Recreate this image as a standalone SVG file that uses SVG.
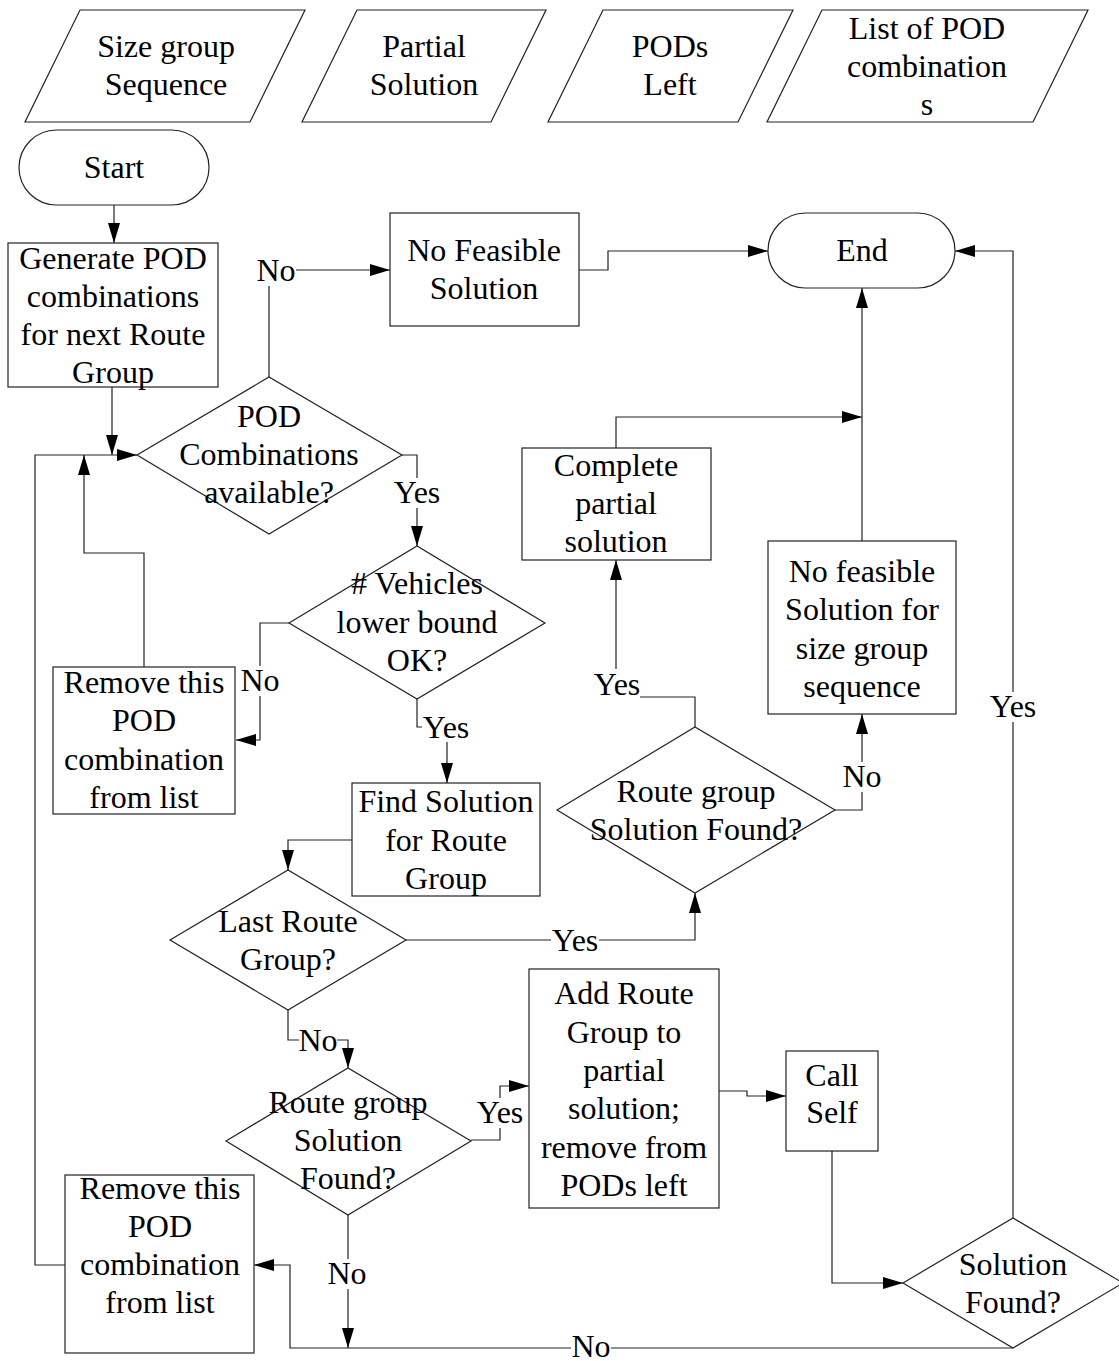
<svg xmlns="http://www.w3.org/2000/svg" width="1119" height="1361" viewBox="0 0 1119 1361">
  <defs>
    <marker id="arrow" viewBox="0 0 20 12" refX="20" refY="6" markerWidth="20" markerHeight="12" markerUnits="userSpaceOnUse" orient="auto">
      <path d="M0,0 L20,6 L0,12 z" fill="#000"/>
    </marker>
    <style>
      .shape { fill: #fff; stroke: #222; stroke-width: 1.2; }
      .link { fill: none; stroke: #222; stroke-width: 1.2; }
      .arr { marker-end: url(#arrow); }
      text { font-family: "Liberation Serif", "Times New Roman", serif; font-size: 32px; fill: #000; text-anchor: middle; }
      .lblbg { fill: #fff; stroke: none; }
    </style>
  </defs>
  <rect x="0" y="0" width="1119" height="1361" fill="#fff"/>

  <!-- data inputs -->
  <g id="input-size-group">
    <polygon class="shape" points="80,10 305,10 250,122 25,122"/>
    <text x="166"><tspan y="57">Size group</tspan><tspan x="166" y="95">Sequence</tspan></text>
  </g>
  <g id="input-partial-solution">
    <polygon class="shape" points="357,10 546,10 491,122 302,122"/>
    <text x="424"><tspan y="57">Partial</tspan><tspan x="424" y="95">Solution</tspan></text>
  </g>
  <g id="input-pods-left">
    <polygon class="shape" points="603,10 793,10 738,122 548,122"/>
    <text x="670"><tspan y="57">PODs</tspan><tspan x="670" y="95">Left</tspan></text>
  </g>
  <g id="input-pod-list">
    <polygon class="shape" points="822,10 1088,10 1033,122 767,122"/>
    <text x="927"><tspan y="39">List of POD</tspan><tspan x="927" y="77">combination</tspan><tspan x="927" y="115">s</tspan></text>
  </g>

  <!-- connectors -->
  <g id="connectors">
    <path class="link arr" d="M114,205 L114,243"/>
    <path class="link arr" d="M112,387 L112,455"/>
    <path class="link arr" d="M65,1265 L35,1265 L35,455 L137,455"/>
    <path class="link arr" d="M144,667 L144,553 L84,553 L84,455"/>
    <path class="link arr" d="M269,377 L269,270 L390,270"/>
    <path class="link arr" d="M579,270 L608,270 L608,251 L768,251"/>
    <path class="link arr" d="M402,455 L417,455 L417,546"/>
    <path class="link arr" d="M289,623 L260,623 L260,740 L236,740"/>
    <path class="link arr" d="M417,699 L417,727 L447,727 L447,783"/>
    <path class="link arr" d="M352,840 L288,840 L288,870"/>
    <path class="link arr" d="M406,940 L695,940 L695,893"/>
    <path class="link arr" d="M695,727 L695,697 L616,697 L616,560"/>
    <path class="link arr" d="M616,448 L616,417 L862,417"/>
    <path class="link arr" d="M862,541 L862,288"/>
    <path class="link arr" d="M835,810 L862,810 L862,714"/>
    <path class="link arr" d="M288,1010 L288,1040 L348,1040 L348,1068"/>
    <path class="link arr" d="M471,1140 L500,1140 L500,1086 L529,1086"/>
    <path class="link arr" d="M719,1091 L747,1091 L747,1096 L786,1096"/>
    <path class="link arr" d="M832,1151 L832,1283 L903,1283"/>
    <path class="link arr" d="M1013,1218 L1013,251 L955,251"/>
    <path class="link arr" d="M1013,1348 L290,1348 L290,1265 L254,1265"/>
    <path class="link arr" d="M348,1215 L348,1348"/>

    <!-- branch labels -->
    <rect class="lblbg" x="256" y="256" width="40" height="30"/>
    <text x="276" y="281">No</text>
    <rect class="lblbg" x="393" y="478" width="48" height="30"/>
    <text x="417" y="503">Yes</text>
    <rect class="lblbg" x="241" y="666" width="38" height="30"/>
    <text x="260" y="691">No</text>
    <rect class="lblbg" x="422" y="712" width="48" height="30"/>
    <text x="446" y="738">Yes</text>
    <rect class="lblbg" x="551" y="926" width="48" height="30"/>
    <text x="575" y="951">Yes</text>
    <rect class="lblbg" x="594" y="669" width="46" height="30"/>
    <text x="617" y="695">Yes</text>
    <rect class="lblbg" x="843" y="762" width="38" height="30"/>
    <text x="862" y="787">No</text>
    <rect class="lblbg" x="299" y="1026" width="38" height="30"/>
    <text x="318" y="1051">No</text>
    <rect class="lblbg" x="477" y="1098" width="46" height="30"/>
    <text x="500" y="1123">Yes</text>
    <rect class="lblbg" x="989" y="692" width="48" height="30"/>
    <text x="1013" y="717">Yes</text>
    <rect class="lblbg" x="327" y="1259" width="40" height="30"/>
    <text x="347" y="1284">No</text>
    <rect class="lblbg" x="571" y="1334" width="40" height="27"/>
    <text x="591" y="1357">No</text>
  </g>

  <!-- process nodes -->
  <g id="start">
    <rect class="shape" x="19" y="130" width="190" height="75" rx="37.5" ry="37.5"/>
    <text x="114" y="178">Start</text>
  </g>
  <g id="generate-combinations">
    <rect class="shape" x="8" y="243" width="210" height="144"/>
    <text x="113"><tspan y="269">Generate POD</tspan><tspan x="113" y="307">combinations</tspan><tspan x="113" y="345">for next Route</tspan><tspan x="113" y="383">Group</tspan></text>
  </g>
  <g id="combinations-available">
    <polygon class="shape" points="137,455 269,377 402,455 269,534"/>
    <text x="269"><tspan y="427">POD</tspan><tspan x="269" y="465">Combinations</tspan><tspan x="269" y="503">available?</tspan></text>
  </g>
  <g id="no-feasible-solution">
    <rect class="shape" x="390" y="213" width="189" height="113"/>
    <text x="484"><tspan y="261">No Feasible</tspan><tspan x="484" y="299">Solution</tspan></text>
  </g>
  <g id="end">
    <rect class="shape" x="768" y="213" width="187" height="75" rx="37.5" ry="37.5"/>
    <text x="862" y="261">End</text>
  </g>
  <g id="vehicles-lower-bound">
    <polygon class="shape" points="289,623 417,546 545,623 417,699"/>
    <text x="417"><tspan y="594"># Vehicles</tspan><tspan x="417" y="633">lower bound</tspan><tspan x="417" y="671">OK?</tspan></text>
  </g>
  <g id="remove-combination-upper">
    <rect class="shape" x="53" y="667" width="182" height="147"/>
    <text x="144"><tspan y="693">Remove this</tspan><tspan x="144" y="731">POD</tspan><tspan x="144" y="770">combination</tspan><tspan x="144" y="808">from list</tspan></text>
  </g>
  <g id="find-solution">
    <rect class="shape" x="352" y="783" width="188" height="113"/>
    <text x="446"><tspan y="812">Find Solution</tspan><tspan x="446" y="851">for Route</tspan><tspan x="446" y="889">Group</tspan></text>
  </g>
  <g id="complete-partial">
    <rect class="shape" x="522" y="448" width="189" height="112"/>
    <text x="616"><tspan y="476">Complete</tspan><tspan x="616" y="514">partial</tspan><tspan x="616" y="552">solution</tspan></text>
  </g>
  <g id="no-feasible-sequence">
    <rect class="shape" x="768" y="541" width="188" height="173"/>
    <text x="862"><tspan y="582">No feasible</tspan><tspan x="862" y="620">Solution for</tspan><tspan x="862" y="659">size group</tspan><tspan x="862" y="697">sequence</tspan></text>
  </g>
  <g id="route-group-found-upper">
    <polygon class="shape" points="557,810 695,727 835,810 695,893"/>
    <text x="696"><tspan y="802">Route group</tspan><tspan x="696" y="840">Solution Found?</tspan></text>
  </g>
  <g id="last-route-group">
    <polygon class="shape" points="170,940 288,870 406,940 288,1010"/>
    <text x="288"><tspan y="932">Last Route</tspan><tspan x="288" y="970">Group?</tspan></text>
  </g>
  <g id="route-group-found-lower">
    <polygon class="shape" points="226,1141 348,1068 471,1141 348,1215"/>
    <text x="348"><tspan y="1113">Route group</tspan><tspan x="348" y="1151">Solution</tspan><tspan x="348" y="1189">Found?</tspan></text>
  </g>
  <g id="add-route-group">
    <rect class="shape" x="529" y="969" width="190" height="239"/>
    <text x="624"><tspan y="1004">Add Route</tspan><tspan x="624" y="1043">Group to</tspan><tspan x="624" y="1081">partial</tspan><tspan x="624" y="1119">solution;</tspan><tspan x="624" y="1158">remove from</tspan><tspan x="624" y="1196">PODs left</tspan></text>
  </g>
  <g id="call-self">
    <rect class="shape" x="786" y="1051" width="92" height="100"/>
    <text x="832"><tspan y="1086">Call</tspan><tspan x="832" y="1123">Self</tspan></text>
  </g>
  <g id="solution-found">
    <polygon class="shape" points="903,1283 1013,1218 1123,1283 1013,1348"/>
    <text x="1013"><tspan y="1275">Solution</tspan><tspan x="1013" y="1313">Found?</tspan></text>
  </g>
  <g id="remove-combination-lower">
    <rect class="shape" x="65" y="1175" width="189" height="178"/>
    <text x="160"><tspan y="1199">Remove this</tspan><tspan x="160" y="1237">POD</tspan><tspan x="160" y="1275">combination</tspan><tspan x="160" y="1313">from list</tspan></text>
  </g>
</svg>
